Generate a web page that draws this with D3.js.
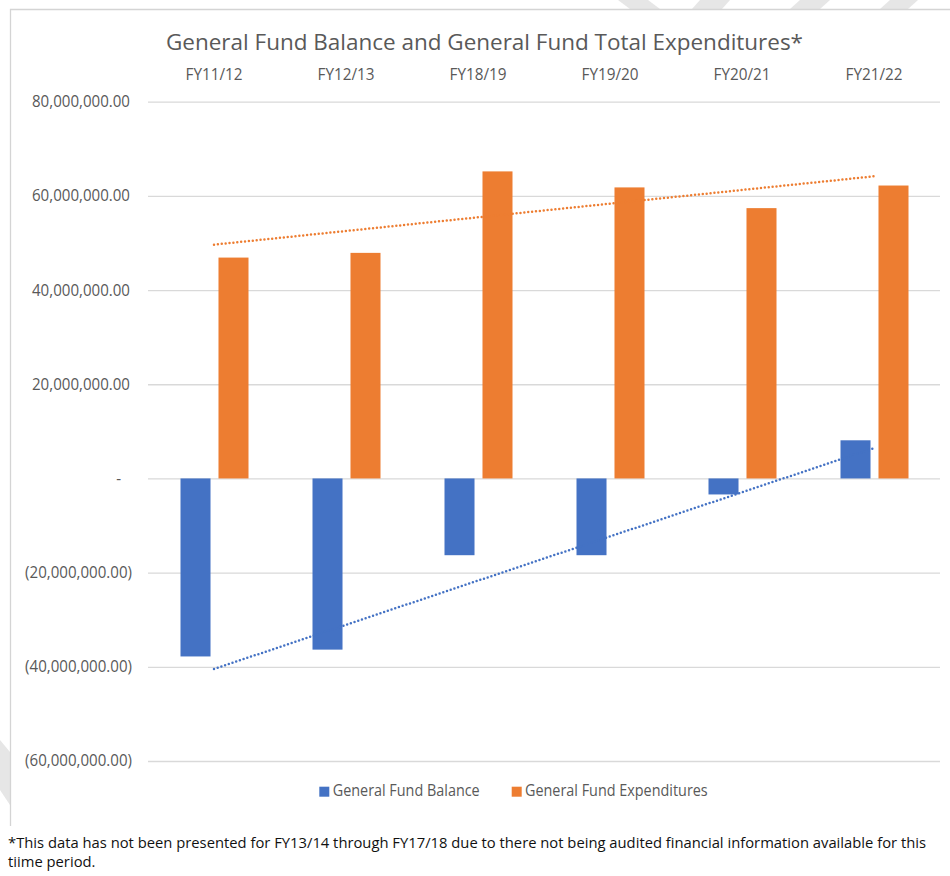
<!DOCTYPE html>
<html>
<head>
<meta charset="utf-8">
<script src="https://cdn.jsdelivr.net/npm/d3@7"></script>
<style>
  html, body { margin: 0; padding: 0; background: #fff; }
  svg { display: block; }
  text { font-family: "Open Sans", "Noto Sans", sans-serif; }
</style>
</head>
<body>
<svg id="chart" width="950" height="876"></svg>
<script>
// ---------- data ----------
const categories = ["FY11/12", "FY12/13", "FY18/19", "FY19/20", "FY20/21", "FY21/22"];
const generalFundBalance = [-37800000, -36350000, -16300000, -16300000, -3400000, 8100000];
const generalFundExpenditures = [46900000, 47900000, 65200000, 61800000, 57400000, 62200000];
const seriesNames = ["General Fund Balance", "General Fund Expenditures"];
const yTickValues = [-60000000, -40000000, -20000000, 0, 20000000, 40000000, 60000000, 80000000];
const titleText = "General Fund Balance and General Fund Total Expenditures*";
const footnoteLines = [
  "*This data has not been presented for FY13/14 through FY17/18 due to there not being audited financial information available for this",
  "tiime period."
];

// ---------- styles ----------
const colors = { "General Fund Balance": "#4472C4", "General Fund Expenditures": "#ED7D31" };
const textGray = "#595959";
const gridGray = "#D9D9D9";

const svg = d3.select("#chart");
const W = 950, H = 876;
const plot = { left: 148, right: 940, top: 101.7, bottom: 761 };

svg.append("rect").attr("width", W).attr("height", H).attr("fill", "#fff");

// faint watermark fragments outside the chart frame
const wm = svg.append("g").attr("fill", "#e6e6e6");
[
  [[618,0],[648,0],[660,9],[630,9]],
  [[700,0],[730,0],[722,9],[692,9]],
  [[790,9],[800,0],[830,0],[820,9]],
  [[880,9],[890,0],[918,0],[908,9]],
  [[0,740],[10,752],[10,805],[0,790]]
].forEach(p => wm.append("polygon").attr("points", p.map(d => d.join(",")).join(" ")));

// chart frame
svg.append("path")
  .attr("d", "M10.5,826 L10.5,9.5 L950,9.5")
  .attr("fill", "none").attr("stroke", "#d4d4d4").attr("stroke-width", 1.3);

// ---------- scales ----------
const x0 = d3.scaleBand().domain(categories).range([plot.left, plot.right]).paddingInner(0).paddingOuter(0);
const bw = x0.bandwidth();
const x1 = d3.scaleBand().domain(seriesNames).range([bw / 2 - 33.5, bw / 2 + 34.5]).paddingInner(0.21).paddingOuter(0);
const y = d3.scaleLinear().domain([-60000000, 80000000]).range([plot.bottom, plot.top]);

const fmt = d3.format(",.2f");
const acct = v => v === 0 ? "-" : (v < 0 ? "(" + fmt(-v) + ")" : fmt(v));

// ---------- y axis + gridlines ----------
const yAxis = svg.append("g")
  .attr("transform", `translate(${plot.left},0)`)
  .call(d3.axisLeft(y).tickValues(yTickValues).tickFormat(acct)
        .tickSize(-(plot.right - plot.left)).tickPadding(18));
yAxis.select(".domain").remove();
yAxis.selectAll(".tick line").attr("stroke", gridGray).attr("stroke-width", 1.3);
yAxis.selectAll(".tick text").attr("fill", textGray)
  .attr("x", d => d === 0 ? -27 : (d < 0 ? -16 : -18));

// ---------- top category axis ----------
const xAxis = svg.append("g")
  .attr("transform", `translate(0,${plot.top})`)
  .call(d3.axisTop(x0).tickSize(0).tickPadding(21.7));
xAxis.select(".domain").remove();
xAxis.selectAll(".tick text").attr("fill", textGray);

// ---------- bars ----------
const rows = categories.map((c, i) => ({
  cat: c,
  vals: [
    { s: seriesNames[0], v: generalFundBalance[i] },
    { s: seriesNames[1], v: generalFundExpenditures[i] }
  ]
}));
const groups = svg.append("g").selectAll("g").data(rows).join("g")
  .attr("transform", d => `translate(${x0(d.cat)},0)`);
groups.selectAll("rect").data(d => d.vals).join("rect")
  .attr("x", d => x1(d.s))
  .attr("width", x1.bandwidth())
  .attr("y", d => y(Math.max(0, d.v)))
  .attr("height", d => Math.abs(y(d.v) - y(0)))
  .attr("fill", d => colors[d.s]);

// ---------- linear trendlines ----------
function linreg(vals) {
  const xs = vals.map((_, i) => i + 1);
  const mx = d3.mean(xs), my = d3.mean(vals);
  let sxy = 0, sxx = 0;
  xs.forEach((xv, i) => { sxy += (xv - mx) * (vals[i] - my); sxx += (xv - mx) * (xv - mx); });
  const b = sxy / sxx, a = my - b * mx;
  return xv => a + b * xv;
}
[[generalFundBalance, seriesNames[0]], [generalFundExpenditures, seriesNames[1]]].forEach(([vals, s]) => {
  const f = linreg(vals);
  const pts = [
    [x0(categories[0]) + bw / 2, y(f(1))],
    [x0(categories[categories.length - 1]) + bw / 2, y(f(categories.length))]
  ];
  svg.append("path")
    .attr("d", d3.line()(pts))
    .attr("fill", "none")
    .attr("stroke", colors[s])
    .attr("stroke-width", 2.5)
    .attr("stroke-linecap", "round")
    .attr("stroke-dasharray", "0 3.9");
});

// ---------- title ----------
const title = svg.append("text")
  .attr("x", 484.5).attr("y", 49.5).attr("text-anchor", "middle")
  .attr("fill", textGray).text(titleText);

// ---------- legend ----------
const legendItems = [
  { s: seriesNames[0], sx: 319.3, tx: 332.7 },
  { s: seriesNames[1], sx: 511.7, tx: 525 }
];
const leg = svg.append("g");
legendItems.forEach(it => {
  leg.append("rect").attr("x", it.sx).attr("y", 786.7).attr("width", 10).attr("height", 10).attr("fill", colors[it.s]);
  it.node = leg.append("text").attr("x", it.tx).attr("y", 796).attr("fill", textGray).text(it.s);
});

// ---------- footnote ----------
const fnBaselines = [847.5, 867];
const fnText = svg.append("g").selectAll("text").data(footnoteLines).join("text")
  .attr("x", 8).attr("y", (d, i) => fnBaselines[i]).attr("fill", "#111").text(d => d);

// ---------- match Calibri-like metrics: size by height, squeeze to reference width ----------
function squeeze(sel, size, refNode, refTarget) {
  sel.attr("font-size", size);
  const factor = refTarget / refNode.getComputedTextLength();
  sel.each(function () {
    const w = this.getComputedTextLength();
    d3.select(this).attr("textLength", w * factor).attr("lengthAdjust", "spacingAndGlyphs");
  });
}
squeeze(title, 22.5, title.node(), 637);

const yT = yAxis.selectAll(".tick text");
squeeze(yT, 15.4, yT.filter(d => d === 80000000).node(), 98);

const xT = xAxis.selectAll(".tick text");
squeeze(xT, 16, xT.filter(d => d === "FY21/22").node(), 57);

const lT = leg.selectAll("text");
squeeze(lT, 15.6, legendItems[0].node.node(), 147);

squeeze(fnText, 14.2, fnText.nodes()[0], 918);
</script>
</body>
</html>
